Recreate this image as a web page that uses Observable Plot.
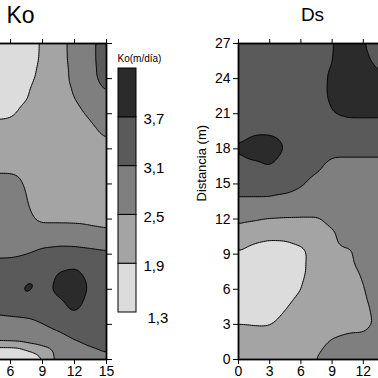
<!DOCTYPE html>
<html><head><meta charset="utf-8">
<script src="https://cdn.jsdelivr.net/npm/d3@7"></script>
<script src="https://cdn.jsdelivr.net/npm/@observablehq/plot@0.6"></script>
<style>
html,body{margin:0;padding:0;background:#fff;}
#wrap{position:relative;width:378px;height:378px;overflow:hidden;background:#fff;}
#wrap > div{position:absolute;width:260px;}
#wrap svg{max-width:none !important;}
</style></head><body>
<div id="wrap"><div id="ko"></div><div id="bar"></div><div id="ds"></div></div>
<script>
// grid sample positions (m)
const xGrid = [0,1.5,3,4.5,6,7.5,9,10.5,12,13.5,15];
const yGrid = [27,25.5,24,22.5,21,19.5,18,16.5,15,13.5,12,10.5,9,7.5,6,4.5,3,1.5,0];
const koValues = [
 [1.5,1.5,1.5,1.5,1.55,1.7,1.95,2.2,2.77,2.95,3.4],
 [1.5,1.5,1.5,1.5,1.55,1.72,1.96,2.2,2.75,2.95,3.4],
 [1.5,1.5,1.5,1.55,1.6,1.75,2.03,2.3,2.63,2.95,3.33],
 [1.55,1.55,1.6,1.62,1.65,1.85,2.23,2.35,2.5,2.8,3.07],
 [1.7,1.7,1.72,1.75,1.8,2.07,2.2,2.25,2.4,2.56,2.8],
 [2.15,2.15,2.17,2.17,2.15,2.2,2.2,2.2,2.25,2.4,2.6],
 [2.2,2.2,2.2,2.2,2.2,2.2,2.15,2.15,2.2,2.3,2.4],
 [2.37,2.37,2.37,2.37,2.37,2.3,2.2,2.2,2.2,2.25,2.3],
 [2.7,2.7,2.7,2.7,2.7,2.45,2.25,2.2,2.2,2.2,2.25],
 [2.75,2.75,2.75,2.75,2.75,2.52,2.24,2.25,2.25,2.25,2.3],
 [2.8,2.8,2.8,2.8,2.75,2.62,2.39,2.4,2.4,2.38,2.35],
 [2.85,2.85,2.85,2.85,2.85,2.85,2.85,2.83,2.8,2.7,2.63],
 [3.0,3.0,3.0,3.0,3.0,3.08,3.25,3.34,3.35,3.3,3.22],
 [3.35,3.35,3.35,3.4,3.43,3.5,3.55,3.72,3.8,3.5,3.35],
 [3.4,3.4,3.4,3.4,3.4,3.86,3.55,3.82,4.1,3.6,3.35],
 [3.3,3.3,3.3,3.3,3.3,3.35,3.4,3.5,3.85,3.5,3.35],
 [2.8,2.8,2.8,2.8,2.92,2.95,3.09,3.25,3.45,3.45,3.3],
 [2.6,2.6,2.6,2.6,2.6,2.65,2.75,2.85,3.05,3.15,3.2],
 [0.5,0.5,0.5,0.5,0.5,1.24,1.8,2.75,2.9,2.97,3.05]
];
const dsValues = [
 [3.4,3.4,3.4,3.4,3.4,3.5,3.65,4.03,3.75,3.37,3.3],
 [3.4,3.4,3.4,3.4,3.4,3.5,3.68,4.0,3.95,3.42,3.35],
 [3.4,3.4,3.4,3.4,3.4,3.5,3.79,4.0,4.05,3.9,3.75],
 [3.4,3.4,3.4,3.4,3.4,3.5,3.8,4.0,4.05,4.0,3.95],
 [3.4,3.4,3.4,3.4,3.4,3.45,3.7,3.76,3.76,3.76,3.76],
 [3.55,3.62,3.62,3.5,3.4,3.4,3.45,3.5,3.5,3.5,3.5],
 [3.75,4.0,4.0,3.68,3.4,3.35,3.28,3.28,3.28,3.28,3.28],
 [3.45,3.55,3.72,3.45,3.35,3.2,2.9,2.9,2.9,2.9,2.92],
 [3.3,3.3,3.3,3.3,3.15,2.9,2.85,2.85,2.85,2.85,2.85],
 [3.03,3.03,3.03,2.95,2.85,2.8,2.8,2.8,2.8,2.8,2.8],
 [2.6,2.55,2.47,2.45,2.45,2.45,2.64,2.75,2.8,2.8,2.8],
 [2.3,2.1,2.0,2.0,2.05,2.2,2.4,2.77,2.8,2.8,2.8],
 [1.84,1.6,1.5,1.57,1.77,2.1,2.3,2.35,2.8,2.85,2.85],
 [1.6,1.5,1.5,1.55,1.75,2.2,2.25,2.3,2.57,2.8,2.85],
 [1.6,1.5,1.5,1.6,1.9,2.15,2.2,2.25,2.47,2.75,2.85],
 [1.6,1.55,1.6,1.85,2.15,2.2,2.2,2.25,2.4,2.65,2.8],
 [1.9,1.85,1.85,2.1,2.2,2.2,2.25,2.3,2.35,2.6,2.75],
 [2.2,2.35,2.3,2.3,2.3,2.35,2.57,2.7,2.65,2.7,2.75],
 [2.2,2.2,2.25,2.3,2.35,2.52,2.7,2.75,2.75,2.75,2.8]
];
const thresholds = [1.3,1.9,2.5,3.1,3.7];
const legendTop = 4.3;
const legendLabels = ["1,3","1,9","2,5","3,1","3,7"];
const grays = ["#dcdcdc","#a4a4a4","#7f7f7f","#5a5a5a","#2b2b2b"];
const xTicks = [0,3,6,9,12,15];
const yTicks = [0,3,6,9,12,15,18,21,24,27];

const font = "'Liberation Sans', Arial, sans-serif";
const colorScale = {type:"threshold", domain: thresholds.slice(1), range: grays};
const contourThresholds = [0, ...thresholds.slice(1)];
const toPoints = (vals) => yGrid.flatMap((y,i) => xGrid.map((x,j) => ({x, y, v: vals[i][j]})));
const noText = () => "";

function panel(points, opts) {
  return Plot.plot({
    width: opts.width, height: 389,
    marginLeft: opts.marginLeft, marginRight: opts.marginRight, marginTop: 43, marginBottom: 30,
    style: {fontFamily: font, fontSize: "14px", background: "transparent"},
    x: {domain: [0,15]},
    y: {domain: [0,27]},
    color: colorScale,
    marks: [
      Plot.contour(points, {x:"x", y:"y", fill:"v", interpolate:"barycentric", thresholds: contourThresholds, blur: 1.5, stroke:"black", strokeWidth: 1}),
      Plot.frame({stroke:"black", strokeWidth: 1.8}),
      Plot.axisX(xTicks, {anchor:"bottom", tickSize:5, tickPadding:2, label:null, fontSize:14}),
      Plot.axisX(xTicks, {anchor:"top", tickSize:5, tickFormat: noText, label:null}),
      ...opts.marks
    ]
  });
}

const ko = panel(toPoints(koValues), {width: 220, marginLeft: 20, marginRight: 40, marks: [
  Plot.axisY(yTicks, {anchor:"right", tickSize:5, tickFormat: noText, label:null}),
  Plot.text(["Ko"], {frameAnchor:"top", dx:-6, dy:-21, lineAnchor:"bottom", fontSize:23, fill:"black"})
]});
const ds = panel(toPoints(dsValues), {width: 224, marginLeft: 48, marginRight: 20, marks: [
  Plot.axisY(yTicks, {anchor:"left", tickSize:5, tickPadding:3, label:null, fontSize:14}),
  Plot.text(["Distancia (m)"], {frameAnchor:"left", rotate:-90, dx:-37, fontSize:13, fill:"black"}),
  Plot.text(["Ds"], {frameAnchor:"top", dx:-4, dy:-23, lineAnchor:"bottom", fontSize:19, fill:"black"})
]});

const breaks = [...thresholds, legendTop];
const bands = thresholds.map((t,i) => ({lo: t, hi: breaks[i+1]}));
const labelRows = thresholds.map((t,i) => ({t, label: legendLabels[i]}));
const bar = Plot.plot({
  width: 86, height: 292, marginLeft: 18, marginRight: 50, marginTop: 28, marginBottom: 20,
  style: {fontFamily: font, background: "transparent"},
  x: {domain: [0,1], axis: null},
  y: {domain: [thresholds[0], legendTop], axis: null},
  color: colorScale,
  marks: [
    Plot.rect(bands, {x1: 0, x2: 1, y1: "lo", y2: "hi", fill: "lo", stroke: "black", strokeWidth: 1}),
    Plot.text(labelRows.slice(1), {x: 1, y: "t", text: "label", dx: 7, dy: 2, textAnchor: "start", fontSize: 15, fill: "black"}),
    Plot.text(labelRows.slice(0,1), {x: 1, y: "t", text: "label", dx: 11, dy: 6, textAnchor: "start", fontSize: 15, fill: "black"}),
    Plot.text(["Ko(m/día)"], {frameAnchor: "top-left", dx: -1, dy: -14, textAnchor: "start", fontSize: 10, fill: "black"})
  ]
});

const place = (id, node, left, top) => {
  const el = document.getElementById(id);
  el.style.left = left + "px"; el.style.top = top + "px";
  el.appendChild(node);
};
place("ko", ko, -74, 0);
place("ds", ds, 190, 0);
place("bar", bar, 100, 40);
</script>
</body></html>
